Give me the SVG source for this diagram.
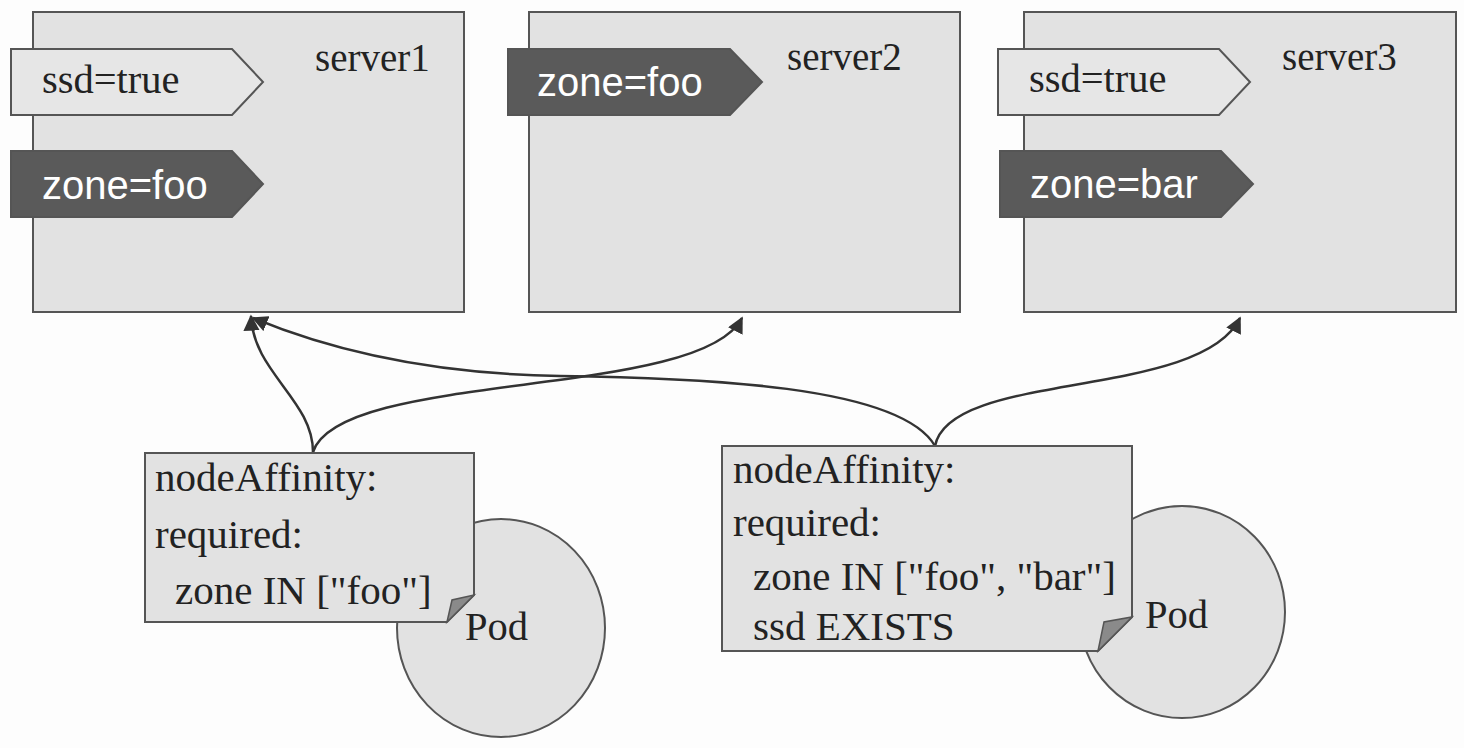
<svg xmlns="http://www.w3.org/2000/svg" width="1464" height="748" viewBox="0 0 1464 748">
<defs>
<style>
.server{fill:#e2e2e2;stroke:#555;stroke-width:2}
.tagl{fill:#e6e6e6;stroke:#555;stroke-width:2}
.tagd{fill:#5a5a5a;stroke:#555;stroke-width:2}
.serif{font-family:"Liberation Serif","Times New Roman",serif;font-size:39px;fill:#222}
.big{font-size:41px}
.tag{font-size:40.5px}
.sans{font-family:"Liberation Sans",Arial,sans-serif;font-size:40px;fill:#fff}
.note{fill:#e2e2e2;stroke:#555;stroke-width:2}
.fold{fill:#8a8a8a;stroke:#555;stroke-width:1.5}
.pod{fill:#e2e2e2;stroke:#555;stroke-width:2}
.conn{fill:none;stroke:#333;stroke-width:2.5}
</style>
<marker id="arr" viewBox="0 0 10 10" refX="9" refY="5" markerWidth="6.5" markerHeight="6.5" orient="auto" markerUnits="strokeWidth">
<path d="M0,0 L10,5 L0,10 z" fill="#333"/>
</marker>
</defs>
<rect width="1464" height="748" fill="#fdfdfd"/>

<g id="server1">
<rect class="server" x="33" y="12" width="431" height="300"/>
<text class="serif" x="315" y="71">server1</text>
<polygon class="tagl" points="11,49 232,49 263,82 232,115 11,115"/>
<text class="serif tag" x="42" y="93">ssd=true</text>
<polygon class="tagd" points="11,151 232,151 263,184 232,217 11,217"/>
<text class="sans" x="42" y="199">zone=foo</text>
</g>

<g id="server2">
<rect class="server" x="529" y="12" width="431" height="300"/>
<text class="serif" x="787" y="70">server2</text>
<polygon class="tagd" points="508,49 730,49 762,82 730,115 508,115"/>
<text class="sans" x="537" y="96">zone=foo</text>
</g>

<g id="server3">
<rect class="server" x="1024" y="12" width="432" height="300"/>
<text class="serif" x="1282" y="70">server3</text>
<polygon class="tagl" points="998,49 1219,49 1250,82 1219,115 998,115"/>
<text class="serif tag" x="1029" y="92">ssd=true</text>
<polygon class="tagd" points="1000,151 1221,151 1253,184 1221,217 1000,217"/>
<text class="sans" x="1030" y="198">zone=bar</text>
</g>

<g id="connectors">
<path class="conn" d="M313,452 C313,400 253,372 251,316" marker-end="url(#arr)"/>
<path class="conn" d="M313,452 C340,370 700,400 742,318" marker-end="url(#arr)"/>
<path class="conn" d="M935,446 C900,385 700,378 560,376 C430,374 330,350 253,318" marker-end="url(#arr)"/>
<path class="conn" d="M935,446 C950,370 1200,400 1240,318" marker-end="url(#arr)"/>
</g>

<g id="pod1">
<ellipse class="pod" cx="501" cy="628" rx="104" ry="109"/>
<text class="serif tag" x="465" y="640">Pod</text>
</g>

<g id="note1">
<polygon class="note" points="145,453 474,453 474,595 447,622 145,622"/>
<polygon class="fold" points="474,595 447,622 452,600"/>
<text class="serif big" x="155" y="491">nodeAffinity:</text>
<text class="serif big" x="155" y="548">required:</text>
<text class="serif big" x="175" y="604">zone IN ["foo"]</text>
</g>

<g id="pod2">
<ellipse class="pod" cx="1182" cy="612" rx="103" ry="106"/>
<text class="serif tag" x="1145" y="628">Pod</text>
</g>

<g id="note2">
<polygon class="note" points="722,446 1132,446 1132,617 1098,651 722,651"/>
<polygon class="fold" points="1132,617 1098,651 1104,622"/>
<text class="serif big" x="733" y="483">nodeAffinity:</text>
<text class="serif big" x="733" y="536">required:</text>
<text class="serif big" x="753" y="590">zone IN ["foo", "bar"]</text>
<text class="serif big" x="753" y="640">ssd EXISTS</text>
</g>
</svg>
